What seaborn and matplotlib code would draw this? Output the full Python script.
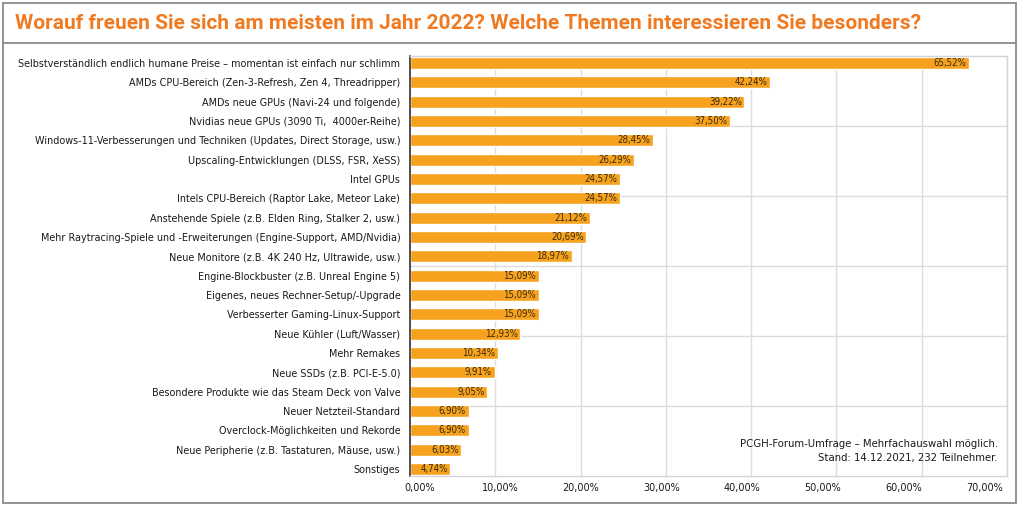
import matplotlib
matplotlib.use("Agg")
import matplotlib.pyplot as plt
from matplotlib import font_manager
from matplotlib.transforms import ScaledTranslation
from matplotlib.ticker import FuncFormatter, MultipleLocator
import seaborn as sns
import pandas as pd

themen = [
    "Selbstverständlich endlich humane Preise – momentan ist einfach nur schlimm",
    "AMDs CPU-Bereich (Zen-3-Refresh, Zen 4, Threadripper)",
    "AMDs neue GPUs (Navi-24 und folgende)",
    "Nvidias neue GPUs (3090 Ti,  4000er-Reihe)",
    "Windows-11-Verbesserungen und Techniken (Updates, Direct Storage, usw.)",
    "Upscaling-Entwicklungen (DLSS, FSR, XeSS)",
    "Intel GPUs",
    "Intels CPU-Bereich (Raptor Lake, Meteor Lake)",
    "Anstehende Spiele (z.B. Elden Ring, Stalker 2, usw.)",
    "Mehr Raytracing-Spiele und -Erweiterungen (Engine-Support, AMD/Nvidia)",
    "Neue Monitore (z.B. 4K 240 Hz, Ultrawide, usw.)",
    "Engine-Blockbuster (z.B. Unreal Engine 5)",
    "Eigenes, neues Rechner-Setup/-Upgrade",
    "Verbesserter Gaming-Linux-Support",
    "Neue Kühler (Luft/Wasser)",
    "Mehr Remakes",
    "Neue SSDs (z.B. PCI-E-5.0)",
    "Besondere Produkte wie das Steam Deck von Valve",
    "Neuer Netzteil-Standard",
    "Overclock-Möglichkeiten und Rekorde",
    "Neue Peripherie (z.B. Tastaturen, Mäuse, usw.)",
    "Sonstiges",
]
anteile = [65.52, 42.24, 39.22, 37.50, 28.45, 26.29, 24.57, 24.57, 21.12, 20.69,
           18.97, 15.09, 15.09, 15.09, 12.93, 10.34, 9.91, 9.05, 6.90, 6.90, 6.03, 4.74]

titel = "Worauf freuen Sie sich am meisten im Jahr 2022? Welche Themen interessieren Sie besonders?"
quelle = "PCGH-Forum-Umfrage – Mehrfachauswahl möglich.\nStand: 14.12.2021, 232 Teilnehmer."

df = pd.DataFrame({"Thema": themen, "Anteil": anteile})


def de_pct(v):
    return f"{v:.2f}".replace(".", ",") + "%"


# narrow font if one is there, else plain DejaVu
names = {f.name for f in font_manager.fontManager.ttflist}
stretch = "normal"
if "Liberation Sans Narrow" in names:
    fam = ["Liberation Sans Narrow", "DejaVu Sans"]
else:
    fam = ["DejaVu Sans"]
    p = font_manager.findfont(font_manager.FontProperties(family="DejaVu Sans", stretch="condensed"))
    if "Condensed" in p:
        stretch = "condensed"

sns.set_style("white")
plt.rcParams["font.family"] = fam
plt.rcParams["font.stretch"] = stretch

fig = plt.figure(figsize=(10.2, 5.07), dpi=100)
ax = fig.add_axes([410 / 1020, 1 - 476 / 507, 597 / 1020, 420 / 507])
rend = fig.canvas.get_renderer()


def fit_size(text, width_px, size, **kw):
    t = fig.text(0, 0, text, fontsize=size, **kw)
    w = t.get_window_extent(rend).width
    t.remove()
    return min(size, size * width_px / w)


lab_size = fit_size(themen[0], 385, 9)
num_size = fit_size("65,52%", 33, 8)
tick_size = fit_size("10,00%", 37, 9)
src_size = fit_size(quelle.split("\n")[0], 258, 9)
title_fam = ["Roboto", "DejaVu Sans"]
title_size = fit_size(titel, 990, 15, fontweight="bold", family=title_fam)

bar_col = "#F7A21E"
sns.barplot(data=df, x="Anteil", y="Thema", orient="h", color=bar_col,
            width=0.62, saturation=1, ax=ax)

for i, v in enumerate(anteile):
    ax.annotate(de_pct(v), (v, i), xytext=(-2, 0), textcoords="offset points",
                ha="right", va="center", fontsize=num_size, color="#3a2a0a")

ax.set_xlim(0, 70)
ax.set_ylim(21.36, -0.36)
ax.xaxis.set_major_locator(MultipleLocator(10))
ax.xaxis.set_major_formatter(FuncFormatter(lambda x, p: de_pct(x)))
ax.set_xlabel("")
ax.set_ylabel("")
ax.tick_params(axis="y", length=0, pad=7, labelsize=lab_size, labelcolor="#1a1a1a")
ax.tick_params(axis="x", length=0, pad=5, labelsize=tick_size, labelcolor="#1a1a1a")

# tick labels sit evenly between the frame ends, not on the grid
for k, lbl in enumerate(ax.get_xticklabels()):
    dx = (14 - k * 4.6) / 100
    lbl.set_transform(lbl.get_transform() + ScaledTranslation(dx, 0, fig.dpi_scale_trans))

ax.grid(axis="x", color="#dcdcdc", lw=1)
ax.set_axisbelow(True)
for k in range(1, 6):
    ax.plot([0, 1], [k / 6, k / 6], transform=ax.transAxes, color="#dcdcdc", lw=1, zorder=0)

for s in ["top", "right", "bottom"]:
    ax.spines[s].set_color("#d4d4d4")
    ax.spines[s].set_linewidth(1)
ax.spines["left"].set_color("#333333")
ax.spines["left"].set_linewidth(1.2)

fig.text(998 / 1020, 1 - 451 / 507, quelle, ha="right", va="center",
         fontsize=src_size, color="#1a1a1a", linespacing=1.6)

fig.text(15 / 1020, 1 - 29 / 507, titel, ha="left", va="baseline",
         fontsize=title_size, fontweight="bold", color="#EF7A22", family=title_fam)

fig.add_artist(plt.Rectangle((3 / 1020, 1 - 503 / 507), 1013 / 1020, 500 / 507,
                             transform=fig.transFigure, fill=False, ec="#8a8a8a", lw=1.3))
fig.add_artist(plt.Line2D([3 / 1020, 1016 / 1020], [1 - 43 / 507, 1 - 43 / 507],
                          transform=fig.transFigure, color="#8a8a8a", lw=1.3))

fig.savefig("out.png", dpi=100)
